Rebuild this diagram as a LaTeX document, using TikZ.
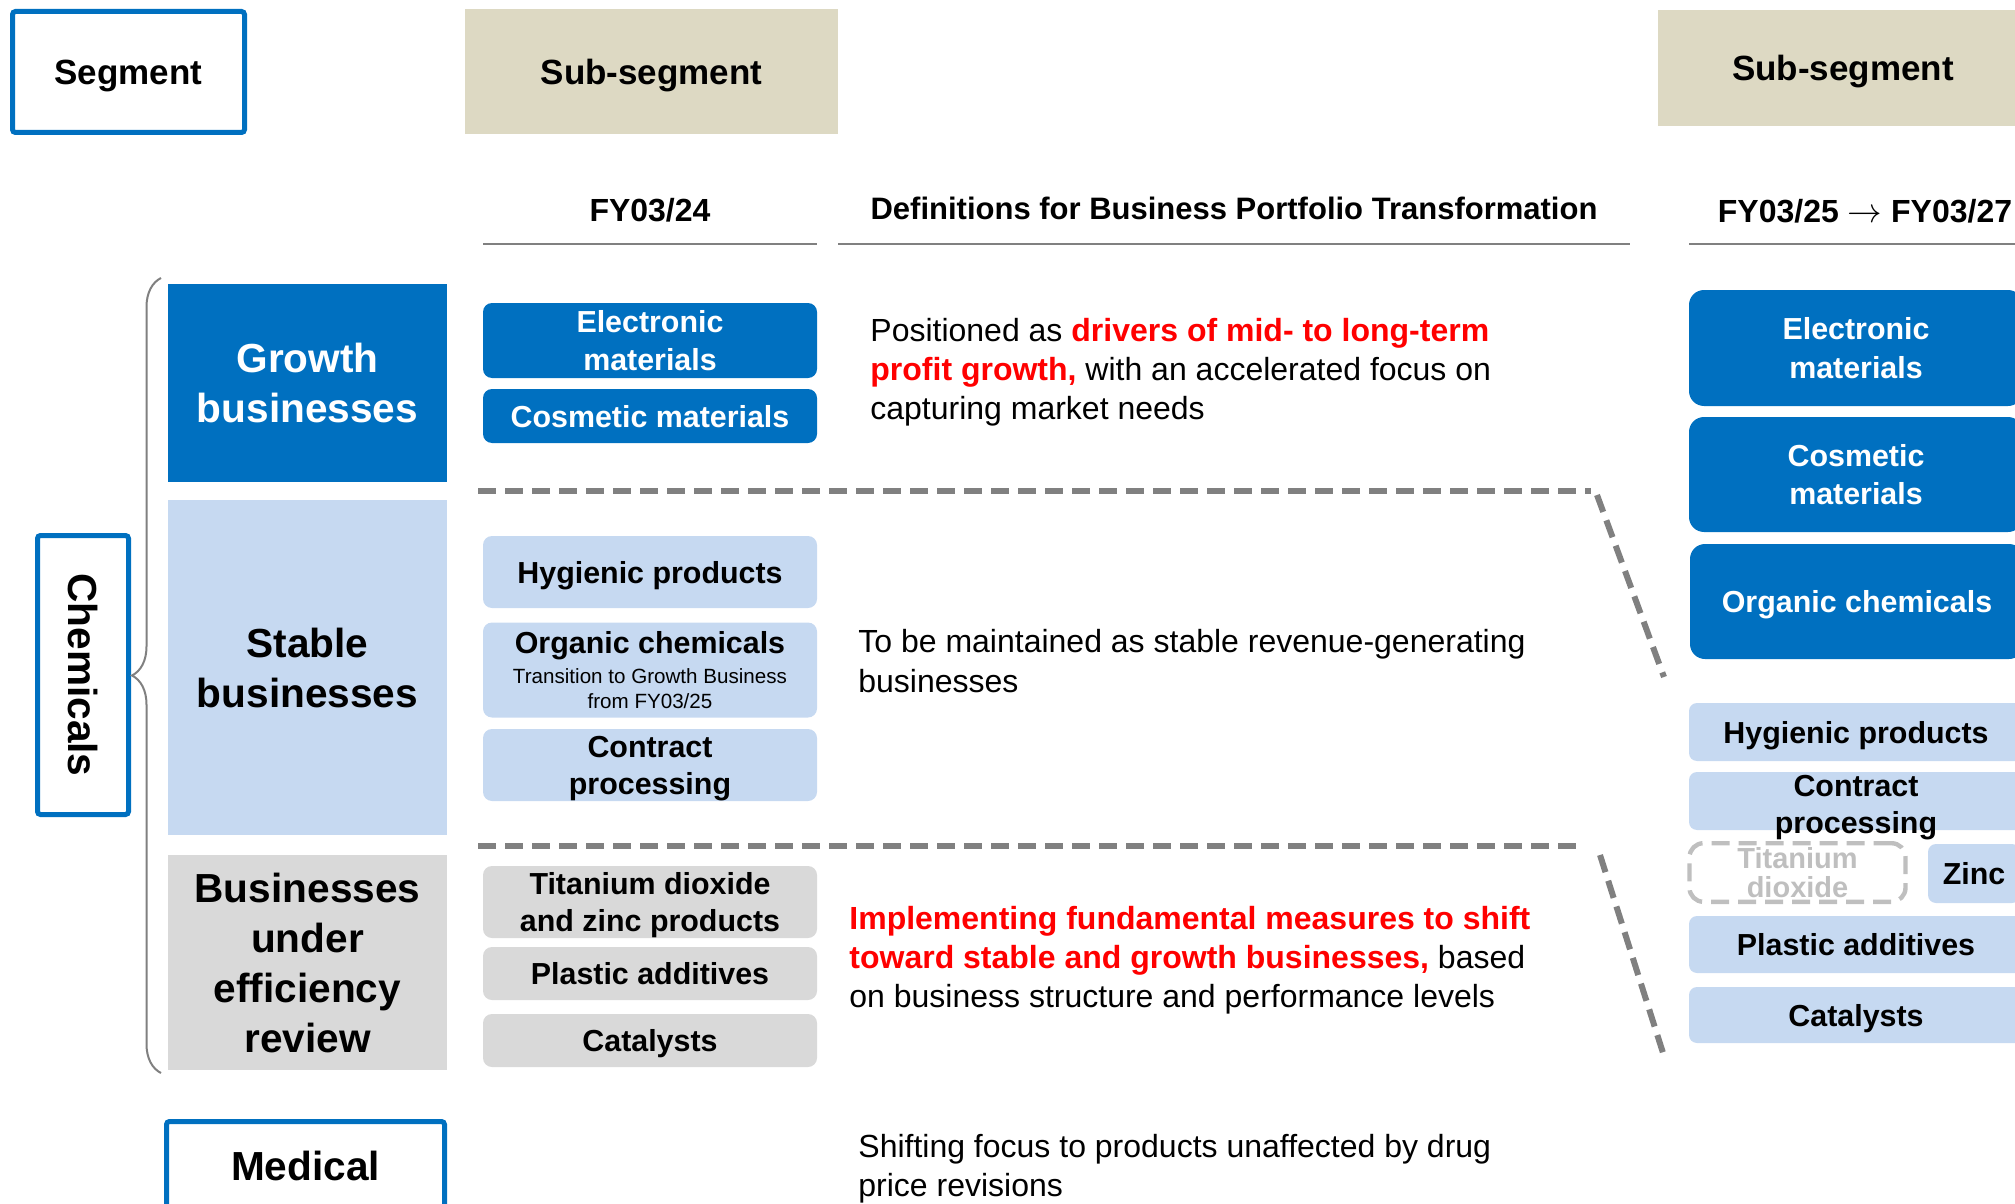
\documentclass[tikz,border=0pt]{standalone}
\usepackage{fontspec}
\setmainfont{Liberation Sans}
\usetikzlibrary{decorations.pathreplacing}

\definecolor{segblue}{HTML}{0070C0}
\definecolor{paleblue}{HTML}{C6D9F1}
\definecolor{boxgrey}{HTML}{D9D9D9}
\definecolor{headtan}{HTML}{DDD9C3}
\definecolor{sepgrey}{HTML}{808080}
\definecolor{fadegrey}{HTML}{BFBFBF}
\definecolor{hotred}{HTML}{FF0000}

\newcommand{\redbf}[1]{\textcolor{hotred}{\textbf{#1}}}
\newcommand{\subnote}[1]{{\mdseries\fontsize{10.3}{12}\selectfont #1}}

\begin{document}
\begin{tikzpicture}[x=0.5pt,y=-0.5pt,
    every node/.style={inner sep=0pt,align=center,text depth=0pt},
    framed/.style={draw=segblue,line width=2.5pt,fill=white,rounded corners=1.5pt,
      font=\bfseries\fontsize{20.3}{25}\selectfont},
    header/.style={fill=headtan,font=\bfseries\fontsize{17.5}{21}\selectfont},
    colhead/.style={font=\bfseries\fontsize{16}{19}\selectfont},
    category/.style={minimum width=139.5pt,font=\bfseries\fontsize{20.3}{25}\selectfont},
    item/.style={minimum width=167pt,rounded corners=4.5pt,font=\bfseries\fontsize{15.2}{18.6}\selectfont},
    dark/.style={fill=segblue,text=white},
    pale/.style={fill=paleblue},
    grey/.style={fill=boxgrey},
    note/.style={anchor=west,align=left,font=\fontsize{16}{19.6}\selectfont},
    rule/.style={draw=sepgrey,line width=1.4pt},
    split/.style={draw=sepgrey,line width=3pt,dash pattern=on 9pt off 4.5pt},
  ]
  \useasboundingbox (0,0) rectangle (2015,1204);
  \clip (0,0) rectangle (2015,1204);

  % headings
  \node[framed,minimum width=116pt,minimum height=60.5pt,
    font=\bfseries\fontsize{17.5}{21}\selectfont] (segment) at (128.5,72) {Segment};
  \node[header,minimum width=186.5pt,minimum height=62.5pt] (subseg-a) at (651.5,71.5) {Sub-segment};
  \node[header,minimum width=185pt,minimum height=58pt] (subseg-b) at (1843,68) {Sub-segment};

  \node[colhead] (fy24) at (650,210) {FY03/24};
  \node[colhead,font=\bfseries\fontsize{15.5}{19}\selectfont] (defs) at (1234,208)
    {Definitions for Business Portfolio Transformation};
  \node[colhead] (fy27) at (1865,211) {FY03/25 $\rightarrow$ FY03/27};
  \draw[rule] (483,244) -- (817,244);
  \draw[rule] (838,244) -- (1630,244);
  \draw[rule] (1689,244) -- (2015,244);

  % segments
  \node[framed,rotate=-90,minimum width=139.5pt,minimum height=45.5pt] (chemicals) at (83,675) {Chemicals};
  \coordinate (brace-top) at (161,278);
  \coordinate (brace-bot) at (161,1073);
  \draw[sepgrey,line width=1pt,decorate,decoration={brace,amplitude=14.5pt}] (brace-bot) -- (brace-top);

  \node[category,dark,minimum height=99pt] (growth) at (307.5,383) {Growth\\businesses};
  \node[category,pale,minimum height=167.5pt] (stable) at (307.5,667.5) {Stable\\businesses};
  \node[category,grey,minimum height=107.5pt] (review) at (307.5,962.5) {Businesses\\under\\efficiency\\review};
  \node[framed,minimum width=139pt,minimum height=44.5pt] (medical) at (305.5,1166) {Medical};

  % FY03/24 sub-segments
  \node[item,dark,minimum height=37.5pt] (g-elec) at (650,340.5) {Electronic\\materials};
  \node[item,dark,minimum height=27pt] (g-cosm) at (650,416) {Cosmetic materials};
  \node[item,pale,minimum height=36pt] (s-hyg) at (650,572) {Hygienic products};
  \node[item,pale,minimum height=47.5pt] (s-org) at (650,670)
    {Organic chemicals\\[-4pt]\subnote{Transition to Growth Business}\\[-6pt]\subnote{from FY03/25}};
  \node[item,pale,minimum height=36pt] (s-con) at (650,765) {Contract\\processing};
  \node[item,grey,minimum height=36pt] (r-tio) at (650,902) {Titanium dioxide\\and zinc products};
  \node[item,grey,minimum height=26.5pt] (r-pla) at (650,973.5) {Plastic additives};
  \node[item,grey,minimum height=26.5pt] (r-cat) at (650,1040.5) {Catalysts};

  % definitions
  \node[note] (def-growth) at (870,369)
    {Positioned as \redbf{drivers of mid- to long-term}\\\redbf{profit growth,} with an accelerated focus on\\capturing market needs};
  \node[note] (def-stable) at (858,661)
    {To be maintained as stable revenue-generating\\businesses};
  \node[note] (def-review) at (849,957)
    {\redbf{Implementing fundamental measures to shift}\\\redbf{toward stable and growth businesses,} based\\on business structure and performance levels};
  \node[note] (def-medical) at (858,1165)
    {Shifting focus to products unaffected by drug\\price revisions};

  % group borders
  \coordinate (split-a1) at (478,491);
  \coordinate (split-a2) at (1591,491);
  \coordinate (split-a3) at (1597,495);
  \coordinate (split-a4) at (1664,677);
  \coordinate (split-b1) at (478,846);
  \coordinate (split-b2) at (1581,846);
  \coordinate (split-b3) at (1600,855);
  \coordinate (split-b4) at (1664,1056);
  \draw[split] (split-a1) -- (split-a2);
  \draw[split] (split-a3) -- (split-a4);
  \draw[split] (split-b1) -- (split-b2);
  \draw[split] (split-b3) -- (split-b4);

  % FY03/25 -> FY03/27 sub-segments
  \node[item,dark,rounded corners=7.5pt,minimum height=58pt,
    font=\bfseries\fontsize{15.2}{19.3}\selectfont] (n-elec) at (1856,348) {Electronic\\materials};
  \node[item,dark,rounded corners=7.5pt,minimum height=57.5pt,
    font=\bfseries\fontsize{15.2}{19.3}\selectfont] (n-cosm) at (1856,474.5) {Cosmetic\\materials};
  \node[item,dark,rounded corners=7.5pt,minimum height=57.5pt] (n-org) at (1857,601.5) {Organic chemicals};
  \node[item,pale,rounded corners=4pt,minimum height=29pt] (n-hyg) at (1856,732) {Hygienic products};
  \node[item,pale,rounded corners=4pt,minimum height=29pt] (n-con) at (1856,801) {};
  \node[font=\bfseries\fontsize{15.2}{18.6}\selectfont] (n-con-text) at (1856,804) {Contract\\processing};
  \node[item,draw=fadegrey,line width=2.2pt,dash pattern=on 9pt off 4.5pt,rounded corners=7pt,
    minimum width=108pt,minimum height=29.3pt,text=fadegrey,
    font=\bfseries\fontsize{14.5}{14.8}\selectfont] (n-tio) at (1797.5,872.5) {Titanium\\dioxide};
  \node[item,pale,rounded corners=4pt,minimum width=46pt,minimum height=29.5pt] (n-zinc) at (1974,873.5) {Zinc};
  \node[item,pale,rounded corners=4pt,minimum height=28.5pt] (n-pla) at (1856,944.5) {Plastic additives};
  \node[item,pale,rounded corners=4pt,minimum height=28pt] (n-cat) at (1856,1015) {Catalysts};
\end{tikzpicture}
\end{document}
